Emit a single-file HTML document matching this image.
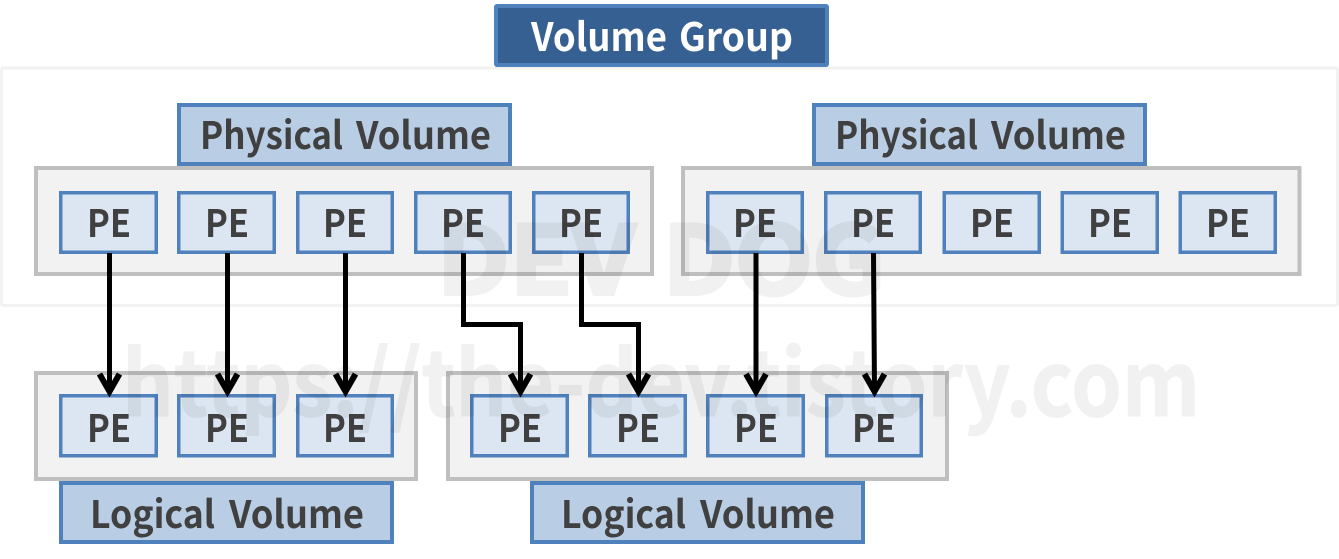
<!DOCTYPE html>
<html>
<head>
<meta charset="utf-8">
<style>
html,body{margin:0;padding:0;background:#fff;width:1339px;height:559px;overflow:hidden}
svg{display:block}
text{font-family:"Noto Sans CJK KR","Liberation Sans",sans-serif;font-weight:700;fill:#404040;text-anchor:start}
.pe{fill:#dce6f2;stroke:#4f81bd;stroke-width:3.5}
.lb{fill:#b9cde5;stroke:#4f81bd;stroke-width:4}
.g{fill:#f2f2f2;stroke:#bfbfbf;stroke-width:4}
.a{fill:none;stroke:#000;stroke-width:5}
.h{fill:none;stroke:#000;stroke-width:6;stroke-linejoin:miter}
text.wm{fill:#000;stroke:#000;opacity:.05;stroke-width:1}
</style>
</head>
<body>
<svg width="1339" height="559" viewBox="0 0 1339 559" xmlns="http://www.w3.org/2000/svg">
<rect x="1.5" y="68" width="1336" height="237.5" rx="2" fill="#fff" stroke="#f2f2f2" stroke-width="3"/>
<rect x="496" y="6" width="331" height="59" rx="1" fill="#376092" stroke="#4f81bd" stroke-width="4"/>
<g font-size="39" style="fill:#fff">
<text x="531" y="51" textLength="136" lengthAdjust="spacingAndGlyphs" style="fill:#fff">Volume</text>
<text x="679" y="51" textLength="114" lengthAdjust="spacingAndGlyphs" style="fill:#fff">Group</text>
</g>

<rect class="g" x="36" y="168" width="616" height="106"/>
<rect class="g" x="683" y="168" width="616.5" height="106"/>
<rect class="g" x="36" y="373" width="380" height="106"/>
<rect class="g" x="448" y="373" width="499" height="106"/>

<rect class="lb" x="179" y="105" width="331" height="59"/>
<rect class="lb" x="814" y="105" width="331" height="59"/>
<rect class="lb" x="61" y="483" width="331" height="59"/>
<rect class="lb" x="532" y="483" width="331" height="59"/>
<g font-size="38">
<text x="200" y="149" textLength="143" lengthAdjust="spacingAndGlyphs">Physical</text>
<text x="356" y="149" textLength="135" lengthAdjust="spacingAndGlyphs">Volume</text>
<text x="835" y="149" textLength="143" lengthAdjust="spacingAndGlyphs">Physical</text>
<text x="991" y="149" textLength="135" lengthAdjust="spacingAndGlyphs">Volume</text>
<text x="90" y="528" textLength="125" lengthAdjust="spacingAndGlyphs">Logical</text>
<text x="229" y="528" textLength="135" lengthAdjust="spacingAndGlyphs">Volume</text>
<text x="561" y="528" textLength="125" lengthAdjust="spacingAndGlyphs">Logical</text>
<text x="700" y="528" textLength="135" lengthAdjust="spacingAndGlyphs">Volume</text>
</g>

<g>
<rect class="pe" x="60.75" y="192.75" width="95.5" height="59.5"/>
<rect class="pe" x="178.75" y="192.75" width="95.5" height="59.5"/>
<rect class="pe" x="297.75" y="192.75" width="94.5" height="59.5"/>
<rect class="pe" x="415.75" y="192.75" width="94.5" height="59.5"/>
<rect class="pe" x="533.75" y="192.75" width="94.5" height="59.5"/>
<rect class="pe" x="707.75" y="192.75" width="94.5" height="59.5"/>
<rect class="pe" x="825.75" y="192.75" width="94.5" height="59.5"/>
<rect class="pe" x="944.25" y="192.75" width="95" height="59.5"/>
<rect class="pe" x="1062.25" y="192.75" width="95" height="59.5"/>
<rect class="pe" x="1180.25" y="192.75" width="95" height="59.5"/>
<rect class="pe" x="60.75" y="395.75" width="95.5" height="60"/>
<rect class="pe" x="178.75" y="395.75" width="95.5" height="60"/>
<rect class="pe" x="297.75" y="395.75" width="94.5" height="60"/>
<rect class="pe" x="471.75" y="395.75" width="95.5" height="60"/>
<rect class="pe" x="589.75" y="395.75" width="95.5" height="60"/>
<rect class="pe" x="707.75" y="395.75" width="95.5" height="60"/>
<rect class="pe" x="826.75" y="395.75" width="94.5" height="60"/>
</g>
<g font-size="38">
<text x="87" y="237" textLength="44" lengthAdjust="spacingAndGlyphs">PE</text>
<text x="205" y="237" textLength="44" lengthAdjust="spacingAndGlyphs">PE</text>
<text x="323" y="237" textLength="44" lengthAdjust="spacingAndGlyphs">PE</text>
<text x="441" y="237" textLength="44" lengthAdjust="spacingAndGlyphs">PE</text>
<text x="559" y="237" textLength="44" lengthAdjust="spacingAndGlyphs">PE</text>
<text x="733" y="237" textLength="44" lengthAdjust="spacingAndGlyphs">PE</text>
<text x="851" y="237" textLength="44" lengthAdjust="spacingAndGlyphs">PE</text>
<text x="970" y="237" textLength="44" lengthAdjust="spacingAndGlyphs">PE</text>
<text x="1088" y="237" textLength="44" lengthAdjust="spacingAndGlyphs">PE</text>
<text x="1206" y="237" textLength="44" lengthAdjust="spacingAndGlyphs">PE</text>
<text x="87" y="442" textLength="44" lengthAdjust="spacingAndGlyphs">PE</text>
<text x="205" y="442" textLength="44" lengthAdjust="spacingAndGlyphs">PE</text>
<text x="323" y="442" textLength="44" lengthAdjust="spacingAndGlyphs">PE</text>
<text x="498" y="442" textLength="44" lengthAdjust="spacingAndGlyphs">PE</text>
<text x="616" y="442" textLength="44" lengthAdjust="spacingAndGlyphs">PE</text>
<text x="734" y="442" textLength="44" lengthAdjust="spacingAndGlyphs">PE</text>
<text x="852" y="442" textLength="44" lengthAdjust="spacingAndGlyphs">PE</text>
</g>

<path class="a" d="M109.5 253V391"/>
<path class="a" d="M227.5 253V391"/>
<path class="a" d="M345.5 253V391"/>
<path class="a" d="M463.5 253V324.5H520.5V391"/>
<path class="a" d="M581.5 253V324.5H638.5V391"/>
<path class="a" d="M756 253V391"/>
<path class="a" d="M873.5 253L874.5 391"/>
<path class="h" d="M99.5 374L109.5 391.5L119.5 374"/>
<path class="h" d="M217.5 374L227.5 391.5L237.5 374"/>
<path class="h" d="M335.5 374L345.5 391.5L355.5 374"/>
<path class="h" d="M510.5 374L520.5 391.5L530.5 374"/>
<path class="h" d="M628.5 374L638.5 391.5L648.5 374"/>
<path class="h" d="M746 374L756 391.5L766 374"/>
<path class="h" d="M864.5 374L874.5 391.5L884.5 374"/>

<text class="wm" x="437" y="294" font-size="94" textLength="198" lengthAdjust="spacingAndGlyphs" style="stroke-width:4">DEV</text>
<text class="wm" x="663" y="294" font-size="94" textLength="222" lengthAdjust="spacingAndGlyphs" style="stroke-width:4">DOG</text>
<text class="wm" x="122" y="416" font-size="90" textLength="1078" lengthAdjust="spacingAndGlyphs">https://the-dev.tistory.com</text>
</svg>
</body>
</html>
